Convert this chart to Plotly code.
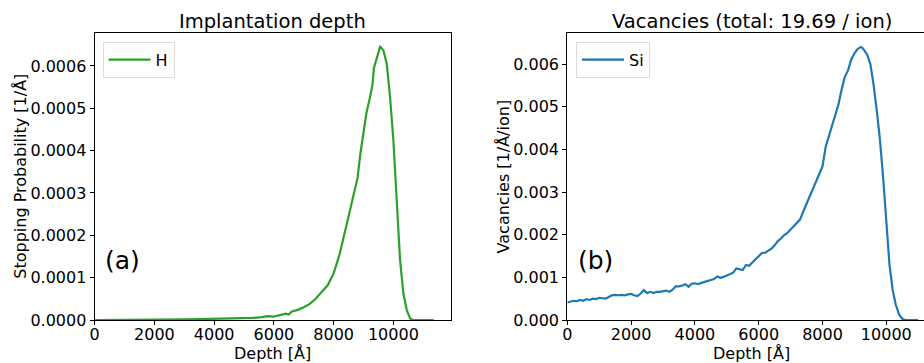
import plotly.graph_objects as go

# ---------------- data ----------------
depth_h = [0, 500, 1000, 1500, 2000, 2500, 3000, 3500, 4000, 4500, 5000, 5300, 5600, 5800,
           6000, 6200, 6400, 6500, 6600, 6800, 7000, 7200, 7400, 7600, 7800, 8000, 8100,
           8200, 8300, 8400, 8500, 8600, 8700, 8800, 8900, 9000, 9100, 9200, 9300, 9350,
           9450, 9500, 9555, 9600, 9666, 9777, 9889, 10000, 10113, 10224, 10335, 10447,
           10559, 10650, 11000, 11350]
prob_h = [0.0, 0.0, 0.0, 0.0005e-4, 0.0005e-4, 0.001e-4, 0.015e-4, 0.02e-4, 0.025e-4, 0.03e-4,
          0.045e-4, 0.05e-4, 0.07e-4, 0.09e-4, 0.08e-4, 0.12e-4, 0.15e-4, 0.13e-4, 0.2e-4,
          0.24e-4, 0.3e-4, 0.38e-4, 0.5e-4, 0.66e-4, 0.82e-4, 1.1e-4, 1.33e-4, 1.55e-4,
          1.85e-4, 2.15e-4, 2.45e-4, 2.75e-4, 3.0e-4, 3.35e-4, 3.95e-4, 4.45e-4, 4.9e-4,
          5.2e-4, 5.55e-4, 5.95e-4, 6.2e-4, 6.3e-4, 6.45e-4, 6.42e-4, 6.37e-4, 6.06e-4,
          5.27e-4, 4.25e-4, 2.9e-4, 1.42e-4, 0.63e-4, 0.24e-4, 0.04e-4, 0.0, 0.0, 0.0]

depth_si = [0, 100, 200, 300, 400, 500, 600, 700, 800, 900, 1000, 1100, 1200, 1300, 1400,
            1500, 1600, 1700, 1800, 1900, 2000, 2100, 2200, 2300, 2400, 2500, 2600, 2700,
            2800, 2900, 3000, 3100, 3200, 3300, 3400, 3500, 3600, 3700, 3800, 3900, 4000,
            4100, 4200, 4300, 4400, 4500, 4600, 4700, 4800, 4900, 5000, 5100, 5200, 5300,
            5400, 5500, 5600, 5700, 5800, 5900, 6000, 6100, 6200, 6300, 6400, 6500, 6600,
            6700, 6800, 6900, 7000, 7100, 7200, 7300, 7400, 7500, 7600, 7700, 7800, 7900,
            8000, 8100, 8200, 8300, 8400, 8500, 8600, 8700, 8800, 8900, 9000, 9100, 9200,
            9250, 9300, 9400, 9500, 9600, 9700, 9800, 9900, 10000, 10100, 10200, 10300,
            10400, 10500, 10600, 10700, 10800, 11000]
vac_si = [0.41e-3, 0.43e-3, 0.45e-3, 0.44e-3, 0.47e-3, 0.45e-3, 0.49e-3, 0.47e-3, 0.50e-3,
          0.49e-3, 0.52e-3, 0.51e-3, 0.50e-3, 0.54e-3, 0.58e-3, 0.59e-3, 0.58e-3, 0.59e-3,
          0.58e-3, 0.60e-3, 0.61e-3, 0.58e-3, 0.56e-3, 0.62e-3, 0.70e-3, 0.63e-3, 0.66e-3,
          0.63e-3, 0.66e-3, 0.66e-3, 0.67e-3, 0.69e-3, 0.66e-3, 0.71e-3, 0.79e-3, 0.79e-3,
          0.81e-3, 0.84e-3, 0.78e-3, 0.85e-3, 0.86e-3, 0.84e-3, 0.87e-3, 0.89e-3, 0.91e-3,
          0.94e-3, 0.96e-3, 1.02e-3, 0.99e-3, 1.01e-3, 1.04e-3, 1.08e-3, 1.11e-3, 1.21e-3,
          1.19e-3, 1.17e-3, 1.29e-3, 1.27e-3, 1.35e-3, 1.42e-3, 1.48e-3, 1.57e-3, 1.58e-3,
          1.63e-3, 1.67e-3, 1.75e-3, 1.85e-3, 1.91e-3, 1.99e-3, 2.04e-3, 2.12e-3, 2.20e-3,
          2.28e-3, 2.36e-3, 2.55e-3, 2.72e-3, 2.90e-3, 3.08e-3, 3.24e-3, 3.40e-3, 3.60e-3,
          4.06e-3, 4.30e-3, 4.55e-3, 4.82e-3, 5.05e-3, 5.40e-3, 5.70e-3, 5.85e-3, 6.10e-3,
          6.25e-3, 6.35e-3, 6.40e-3, 6.38e-3, 6.33e-3, 6.22e-3, 6.00e-3, 5.52e-3, 4.92e-3,
          4.24e-3, 3.35e-3, 2.25e-3, 1.30e-3, 0.70e-3, 0.35e-3, 0.13e-3, 0.03e-3, 0.0,
          0.0, 0.0, 0.0]

title_a = "Implantation depth"
title_b = "Vacancies (total: 19.69 / ion)"
xlabel = "Depth [Å]"
ylabel_a = "Stopping Probability [1/Å]"
ylabel_b = "Vacancies [1/Å/ion]"

# ---------------- figure ----------------
W, H = 924, 363
FONT = "DejaVu Sans"

def fx(p):
    return p / W

def fy(p):
    return 1 - p / H

fig = go.Figure()
fig.add_trace(go.Scatter(x=depth_h, y=prob_h, mode="lines", name="H",
                         line=dict(color="#2ca02c", width=2.2),
                         xaxis="x", yaxis="y", legend="legend"))
fig.add_trace(go.Scatter(x=depth_si, y=vac_si, mode="lines", name="Si",
                         line=dict(color="#1f77b4", width=2.2),
                         xaxis="x2", yaxis="y2", legend="legend2"))

ydom = [fy(320), fy(33.3)]
axis_common = dict(showline=True, linecolor="black", linewidth=1.2, ticks="outside",
                   ticklen=4, tickwidth=1.1, tickcolor="black", showgrid=False,
                   zeroline=False, automargin=False,
                   tickfont=dict(family=FONT, size=16, color="black"))

legend_common = dict(xanchor="left", yanchor="top", bordercolor="#dcdcdc", borderwidth=1,
                     bgcolor="rgba(255,255,255,0.8)", itemwidth=42,
                     font=dict(family=FONT, size=16, color="black"))

fig.update_layout(
    width=W, height=H, margin=dict(l=0, r=0, t=0, b=0, autoexpand=False),
    paper_bgcolor="white", plot_bgcolor="white",
    font=dict(family=FONT, color="black"),
    xaxis=dict(domain=[fx(94.7), fx(450.7)], range=[0, 11920], anchor="y",
               mirror=True, dtick=2000, tickformat="d", ticklabelstandoff=-4,
               **axis_common),
    yaxis=dict(domain=ydom, range=[0, 0.000677], anchor="x", mirror=True,
               dtick=0.0001, tickformat=".4f", **axis_common),
    xaxis2=dict(domain=[fx(567.3), 1.0], range=[0, 11182], anchor="y2",
                mirror=True, dtick=2000, tickformat="d", ticklabelstandoff=-4,
                **axis_common),
    yaxis2=dict(domain=ydom, range=[0, 0.00672], anchor="x2", mirror=False,
                dtick=0.001, tickformat=".3f", **axis_common),
    legend=dict(x=fx(102.5), y=fy(41.7), **legend_common),
    legend2=dict(x=fx(576), y=fy(41.7), **legend_common),
    showlegend=True,
)

ann = []
ann.append(dict(text=title_a, x=fx(272.7), y=fy(22), xref="paper", yref="paper",
                showarrow=False, font=dict(size=19.5, family=FONT, color="black"),
                xanchor="center", yanchor="middle"))
ann.append(dict(text=title_b, x=fx(751.5), y=fy(22), xref="paper", yref="paper",
                showarrow=False, font=dict(size=19.5, family=FONT, color="black"),
                xanchor="center", yanchor="middle"))
ann.append(dict(text=xlabel, x=fx(272.7), y=fy(353.5), xref="paper", yref="paper",
                showarrow=False, font=dict(size=16, family=FONT, color="black"),
                xanchor="center", yanchor="middle"))
ann.append(dict(text=xlabel, x=fx(751.5), y=fy(353.5), xref="paper", yref="paper",
                showarrow=False, font=dict(size=16, family=FONT, color="black"),
                xanchor="center", yanchor="middle"))
ann.append(dict(text=ylabel_a, x=fx(21), y=fy(176.7), xref="paper", yref="paper",
                showarrow=False, textangle=-90, font=dict(size=16, family=FONT, color="black"),
                xanchor="center", yanchor="middle"))
ann.append(dict(text=ylabel_b, x=fx(503.7), y=fy(176.7), xref="paper", yref="paper",
                showarrow=False, textangle=-90, font=dict(size=16, family=FONT, color="black"),
                xanchor="center", yanchor="middle"))
ann.append(dict(text="(a)", x=fx(122.5), y=fy(260), xref="paper", yref="paper",
                showarrow=False, font=dict(size=25, family=FONT, color="black"),
                xanchor="center", yanchor="middle"))
ann.append(dict(text="(b)", x=fx(595.3), y=fy(260), xref="paper", yref="paper",
                showarrow=False, font=dict(size=25, family=FONT, color="black"),
                xanchor="center", yanchor="middle"))
fig.update_layout(annotations=ann)

fig.write_html("out.html", config={"displayModeBar": False},
               post_script="document.body.style.margin='0';document.body.style.overflow='hidden';")
